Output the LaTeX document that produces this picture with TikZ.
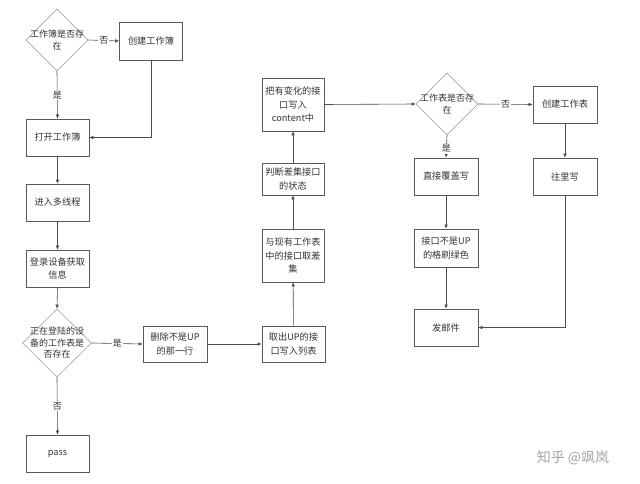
\documentclass[tikz,border=0pt]{standalone}
\usepackage{fontspec}
\setmainfont{Noto Sans CJK SC}
\usetikzlibrary{shapes.geometric,arrows.meta}

\begin{document}
\begin{tikzpicture}[x=1pt,y=-1pt,
  box/.style={draw=black!65, line width=0.6pt, minimum width=63pt, minimum height=37pt, align=center, inner sep=1pt, text=black!80, font=\fontsize{9.2}{13.5}\selectfont},
  choice/.style={diamond, draw=black!35, line width=0.6pt, minimum width=62pt, minimum height=62pt, inner sep=0pt},
  choicetext/.style={align=center, text=black!80, font=\fontsize{9}{11.5}\selectfont},
  flow/.style={-{Latex[length=4pt,width=3.5pt]}, draw=black!70, line width=0.6pt},
  answer/.style={fill=white, inner sep=1pt, text=black!80, font=\fontsize{9}{10}\selectfont}]
\fill[white] (0,0) rectangle (640,484);
\useasboundingbox (0,0) rectangle (640,484);

% Left column
\node[choice, label={[choicetext]center:工作簿是否存\\在}] (bookq) at (57,40) {};
\node[box, minimum height=38pt] (newbook) at (151,41) {创建工作簿};
\node[box] (openbook) at (57.5,137.5) {打开工作簿};
\node[box] (threads) at (57.5,202.5) {进入多线程};
\node[box] (login) at (57.5,268.5) {登录设备获取\\信息};
\node[choice, minimum width=69pt, minimum height=68pt, label={[choicetext]center:正在登陆的设\\备的工作表是\\否存在}] (sheetq) at (57,343) {};
\node[box] (pass) at (57.5,453.5) {pass};

% Middle
\node[box, minimum width=64pt, minimum height=36pt] (delrow) at (175,344) {删除不是UP\\的那一行};
\node[box, minimum height=36pt] (takeup) at (293.5,344) {取出UP的接\\口写入列表};
\node[box, minimum width=62pt, minimum height=53pt] (diffset) at (293,255.5) {与现有工作表\\中的接口取差\\集};
\node[box, minimum width=62pt, minimum height=32pt] (judge) at (293,179) {判断差集接口\\的状态};
\node[box, minimum width=62pt, minimum height=53pt] (content) at (293,104.5) {把有变化的接\\口写入\\content中};

% Right
\node[choice, label={[choicetext]center:工作表是否存\\在}] (tableq) at (447,104) {};
\node[box, minimum width=64pt] (newsheet) at (565,104.5) {创建工作表};
\node[box, minimum width=64pt] (overwrite) at (446,176.5) {直接覆盖写};
\node[box, minimum width=64pt] (writein) at (565,176.5) {往里写};
\node[box, minimum width=64pt, minimum height=38pt] (green) at (446,248) {接口不是UP\\的格刷绿色};
\node[box, minimum width=64pt] (mail) at (446,327.5) {发邮件};

% Connectors
\draw[flow] (bookq.east) -- node[answer] {否} (newbook.west);
\draw[flow] (bookq.south) -- node[answer] {是} (openbook.north);
\draw[flow] (newbook.south) |- (openbook.east);
\draw[flow] (openbook) -- (threads);
\draw[flow] (threads) -- (login);
\draw[flow] (login.south) -- (sheetq.north);
\draw[flow] (sheetq.east) -- node[answer] {是} (delrow.west);
\draw[flow] (sheetq.south) -- node[answer] {否} (pass.north);
\draw[flow] (delrow) -- (takeup);
\draw[flow] (takeup) -- (diffset);
\draw[flow] (diffset) -- (judge);
\draw[flow] (judge) -- (content);
\draw[flow] (content.east) -- (tableq.west);
\draw[flow] (tableq.east) -- node[answer] {否} (newsheet.west);
\draw[flow] (tableq.south) -- node[answer, pos=0.6] {是} (overwrite.north);
\draw[flow] (newsheet) -- (writein);
\draw[flow] (overwrite) -- (green);
\draw[flow] (green) -- (mail);
\draw[flow] (writein.south) |- (mail.east);

% Watermark
\node[text=black!35, font=\fontsize{14}{16}\selectfont] (mark) at (573,458) {知乎 @飒岚};
\end{tikzpicture}
\end{document}
